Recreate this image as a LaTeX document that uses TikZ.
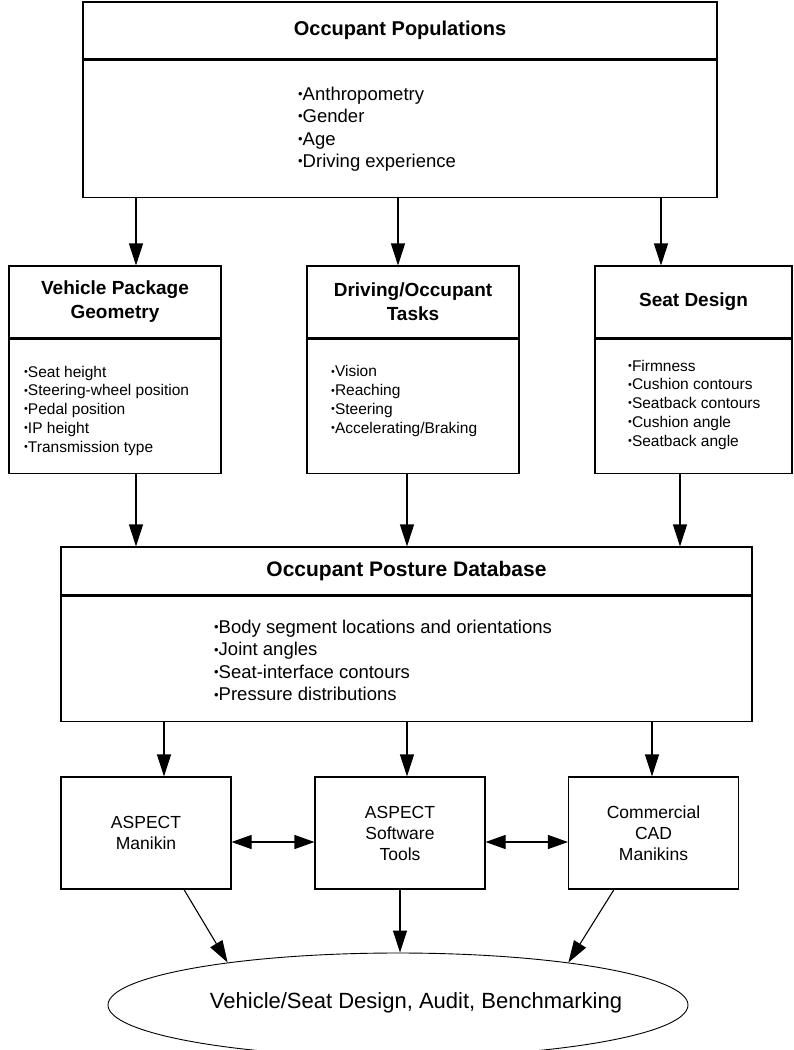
\documentclass[tikz,border=0pt]{standalone}
\usepackage{fontspec}
\setmainfont{Liberation Sans}
\usepackage{graphicx}
\usetikzlibrary{arrows.meta,shapes.geometric}
\newcommand{\bul}{\raisebox{0.1em}{\scalebox{0.7}{•}}}
\newcommand{\fs}[2]{\fontsize{#1}{#2}\selectfont}

\begin{document}
\begin{tikzpicture}[x=1pt,y=-1pt,
  box/.style={draw,line width=1.1pt,inner sep=0pt,align=center},
  lst/.style={anchor=west,align=left,inner sep=0pt},
  arr/.style={line width=1.1pt,-{Triangle[length=22pt,width=14pt]}},
  dbl/.style={line width=1.1pt,{Triangle[length=20pt,width=14pt]}-{Triangle[length=20pt,width=14pt]}}]
\useasboundingbox (0,0) rectangle (793,1050);

% occupant populations
\node[box,minimum width=634pt,minimum height=57pt,font=\bfseries\fs{20}{24}] (pop) at (400,30.5) {Occupant Populations};
\node[box,minimum width=634pt,minimum height=137pt,anchor=north] (popb) at (pop.south) {};
\node[lst,font=\fs{18.5}{22.5}] (popl) at (298,129) {\bul Anthropometry\\ \bul Gender\\ \bul Age\\ \bul Driving experience};

% second row
\node[box,minimum width=212pt,minimum height=72pt,font=\bfseries\fs{19}{24}] (veh) at (115,302) {Vehicle Package\\Geometry};
\node[box,minimum width=212pt,minimum height=134pt,anchor=north] (vehb) at (veh.south) {};
\node[lst,font=\fs{15.5}{18.75}] (vehl) at (24,410.5) {\bul Seat height\\ \bul Steering-wheel position\\ \bul Pedal position\\ \bul IP height\\ \bul Transmission type};

\node[box,minimum width=212pt,minimum height=72pt,font=\bfseries\fs{19}{24}] (drv) at (413,302) {Driving/Occupant\\Tasks};
\node[box,minimum width=212pt,minimum height=134pt,anchor=north] (drvb) at (drv.south) {};
\node[lst,font=\fs{15.5}{18.75}] (drvl) at (331,401) {\bul Vision\\ \bul Reaching\\ \bul Steering\\ \bul Accelerating/Braking};

\node[box,minimum width=197pt,minimum height=72pt,font=\bfseries\fs{19}{24}] (seat) at (693.5,302) {Seat Design};
\node[box,minimum width=197pt,minimum height=134pt,anchor=north] (seatb) at (seat.south) {};
\node[lst,font=\fs{15.5}{18.75}] (seatl) at (628,404.5) {\bul Firmness\\ \bul Cushion contours\\ \bul Seatback contours\\ \bul Cushion angle\\ \bul Seatback angle};

% posture database
\node[box,minimum width=691pt,minimum height=48pt,font=\bfseries\fs{21}{25}] (post) at (406.5,571) {Occupant Posture Database};
\node[box,minimum width=691pt,minimum height=125pt,anchor=north] (postb) at (post.south) {};
\node[lst,font=\fs{18.5}{22.5}] (postl) at (214,660.5) {\bul Body segment locations and orientations\\ \bul Joint angles\\ \bul Seat-interface contours\\ \bul Pressure distributions};

% tools
\node[box,minimum width=170pt,minimum height=112pt,font=\fs{17.5}{21}] (manik) at (146,833) {ASPECT\\Manikin};
\node[box,minimum width=170pt,minimum height=112pt,font=\fs{17.5}{21}] (soft) at (400,833) {ASPECT\\Software\\Tools};
\node[box,minimum width=170pt,minimum height=112pt,font=\fs{17.5}{21}] (cad) at (653.5,833) {Commercial\\CAD\\Manikins};

\node[draw,ellipse,line width=0.9pt,minimum width=580pt,minimum height=104pt] (goal) at (398,1005) {};
\node[font=\fs{22}{26}] (goaltxt) at (416,1003) {Vehicle/Seat Design, Audit, Benchmarking};

% arrows
\foreach \x/\t in {136/veh,398/drv,661/seat}
  \draw[arr] (\x,0 |- popb.south) -- (\x,0 |- \t.north);
\draw[arr] (136,0 |- vehb.south) -- (136,0 |- post.north);
\draw[arr] (407,0 |- drvb.south) -- (407,0 |- post.north);
\draw[arr] (680,0 |- seatb.south) -- (680,0 |- post.north);
\foreach \x/\t in {164/manik,407/soft,652/cad}
  \draw[arr] (\x,0 |- postb.south) -- (\x,0 |- \t.north);
\draw[dbl] ([yshift=-9pt]manik.east) -- ([yshift=-9pt]soft.west);
\draw[dbl] ([yshift=-9pt]soft.east) -- ([yshift=-9pt]cad.west);
\draw[arr] (184,0 |- manik.south) -- (goal.166.7);
\draw[arr] (soft.south) -- (soft.south |- goal.north);
\draw[arr] (614,0 |- cad.south) -- (goal.14);
\end{tikzpicture}
\end{document}
